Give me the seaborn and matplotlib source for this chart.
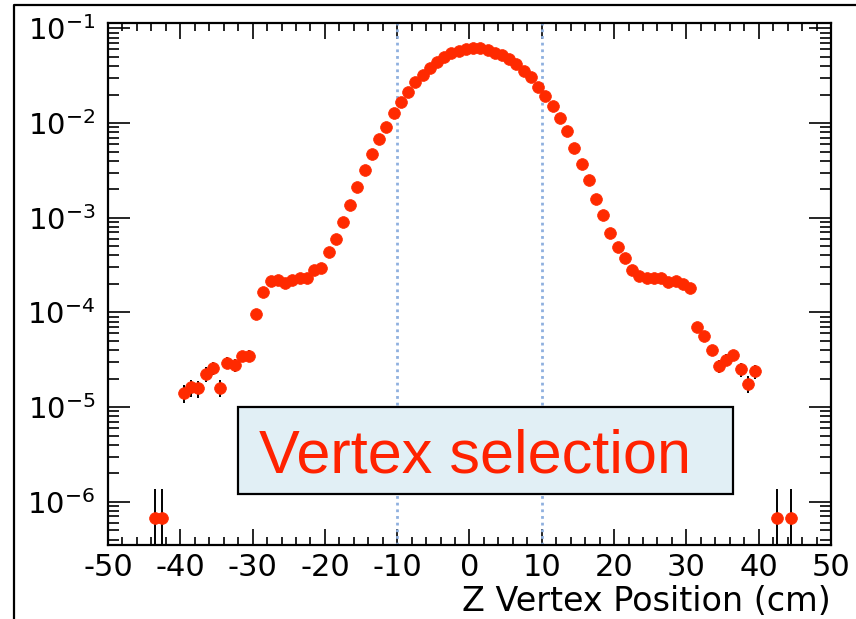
import numpy as np
import pandas as pd
import matplotlib
matplotlib.use("Agg")
import matplotlib.pyplot as plt
import seaborn as sns
from matplotlib.patches import Rectangle
from matplotlib.lines import Line2D
from matplotlib.ticker import MultipleLocator, LogLocator, LogFormatterMathtext, NullFormatter

# ---- data (bin centres in cm, normalised entries) ----
z_pos = [-43.5, -42.5,
         -39.5, -38.5, -37.5, -36.5, -35.5, -34.5, -33.5, -32.5, -31.5, -30.5,
         -29.5, -28.5, -27.5, -26.5, -25.5, -24.5, -23.5, -22.5, -21.5, -20.5,
         -19.5, -18.5, -17.5, -16.5, -15.5, -14.5, -13.5, -12.5, -11.5, -10.5,
         -9.5, -8.5, -7.5, -6.5, -5.5, -4.5, -3.5, -2.5, -1.5, -0.5,
         0.5, 1.5, 2.5, 3.5, 4.5, 5.5, 6.5, 7.5, 8.5, 9.5,
         10.5, 11.5, 12.5, 13.5, 14.5, 15.5, 16.5, 17.5, 18.5, 19.5,
         20.5, 21.5, 22.5, 23.5, 24.5, 25.5, 26.5, 27.5, 28.5, 29.5,
         30.5, 31.5, 32.5, 33.5, 34.5, 35.5, 36.5, 37.5, 38.5, 39.5,
         42.5, 44.5]
fraction = [6.8e-7, 6.8e-7,
            1.41e-5, 1.62e-5, 1.58e-5, 2.24e-5, 2.6e-5, 1.6e-5, 2.95e-5, 2.77e-5, 3.45e-5, 3.5e-5,
            9.7e-5, 1.64e-4, 2.15e-4, 2.2e-4, 2.04e-4, 2.18e-4, 2.29e-4, 2.29e-4, 2.8e-4, 2.95e-4,
            4.3e-4, 6.0e-4, 9.0e-4, 1.38e-3, 2.1e-3, 3.18e-3, 4.67e-3, 6.77e-3, 9.1e-3, 1.29e-2,
            1.68e-2, 2.11e-2, 2.71e-2, 3.24e-2, 3.82e-2, 4.42e-2, 4.96e-2, 5.47e-2, 5.82e-2, 6.1e-2,
            6.2e-2, 6.2e-2, 5.9e-2, 5.54e-2, 5.24e-2, 4.72e-2, 4.2e-2, 3.57e-2, 3.05e-2, 2.42e-2,
            1.93e-2, 1.51e-2, 1.14e-2, 8.2e-3, 5.5e-3, 3.74e-3, 2.53e-3, 1.57e-3, 1.08e-3, 6.9e-4,
            4.9e-4, 3.8e-4, 2.8e-4, 2.45e-4, 2.3e-4, 2.3e-4, 2.3e-4, 2.1e-4, 2.15e-4, 2.0e-4,
            1.8e-4, 7.0e-5, 5.6e-5, 4.0e-5, 2.75e-5, 3.15e-5, 3.55e-5, 2.5e-5, 1.77e-5, 2.38e-5,
            6.8e-7, 6.8e-7]
single_entry = 6.8e-7          # weight of one event (Poisson errors)
x_ticks = [-50, -40, -30, -20, -10, 0, 10, 20, 30, 40, 50]
cut_lines = [-10, 10]
x_label = "Z Vertex Position (cm)"
box_text = "Vertex selection"

df = pd.DataFrame({"z": z_pos, "frac": fraction})
err = np.sqrt(df["frac"].to_numpy() * single_entry)
err_lo = np.minimum(err, df["frac"].to_numpy() * 0.9999)

# ---- style ----
sns.set_style("ticks")
plt.rcParams["font.family"] = ["DejaVu Sans"]
plt.rcParams["mathtext.fontset"] = "dejavusans"
plt.rcParams["axes.unicode_minus"] = False
plt.rcParams["text.color"] = "black"
plt.rcParams["axes.labelcolor"] = "black"
plt.rcParams["xtick.color"] = "black"
plt.rcParams["ytick.color"] = "black"

W, H = 856, 619
fig = plt.figure(figsize=(W / 100, H / 100), dpi=100)
fig.patch.set_facecolor("white")
ax = fig.add_axes([108 / W, 1 - 545 / H, (831 - 108) / W, (545 - 23) / H])
ax.set_facecolor("white")

red = "#ff2a00"
ax.set_yscale("log")

for xv in cut_lines:
    ax.axvline(xv, color="#8fb0df", lw=2.0, ls=(0, (1, 1.4)), zorder=1)

ax.errorbar(df["z"], df["frac"], yerr=[err_lo, err], fmt="none",
            ecolor="black", elinewidth=1.4, capsize=0, zorder=2)
sns.scatterplot(data=df, x="z", y="frac", ax=ax, color=red, s=72,
                edgecolor=red, linewidth=0.5, zorder=3, legend=False)

ax.set_xlim(-50, 50)
ax.set_ylim(3.5e-7, 0.114)

ax.set_xticks(x_ticks)
ax.set_xticklabels([str(t) for t in x_ticks])
ax.xaxis.set_minor_locator(MultipleLocator(2))
ax.yaxis.set_major_locator(LogLocator(base=10, numticks=20))
ax.yaxis.set_minor_locator(LogLocator(base=10, subs=np.arange(2, 10), numticks=20))
ax.yaxis.set_major_formatter(LogFormatterMathtext())
ax.yaxis.set_minor_formatter(NullFormatter())

ax.tick_params(axis="both", which="both", direction="in", top=True, right=True,
               color="black", labelcolor="black", width=1.2)
ax.tick_params(axis="x", which="major", length=11.5, labelsize=22, pad=6)
ax.tick_params(axis="x", which="minor", length=5.8)
ax.tick_params(axis="y", which="major", length=15.8, labelsize=21, pad=9)
ax.tick_params(axis="y", which="minor", length=7.9)
for sp in ax.spines.values():
    sp.set_visible(True)
    sp.set_linewidth(1.6)
    sp.set_color("black")

ax.set_xlabel(x_label, fontsize=24, loc="right", labelpad=2, color="black")
ax.set_ylabel("")

# annotation box
ax.add_patch(Rectangle((0.18, 0.0977), 0.684, 0.1663, transform=ax.transAxes,
                       facecolor="#e1eff5", edgecolor="black", lw=1.6, zorder=5))
ax.text(0.209, 0.138, box_text, transform=ax.transAxes, fontsize=44,
        family=["Liberation Sans", "DejaVu Sans"],
        color="#ff2200", ha="left", va="baseline", zorder=6)

# outer frame (left and top edges visible)
fig.add_artist(Line2D([14 / W, 14 / W, 1.0], [0.0, 1 - 5 / H, 1 - 5 / H],
                      transform=fig.transFigure, color="black", lw=1.6))

fig.savefig("out.png", dpi=100)
